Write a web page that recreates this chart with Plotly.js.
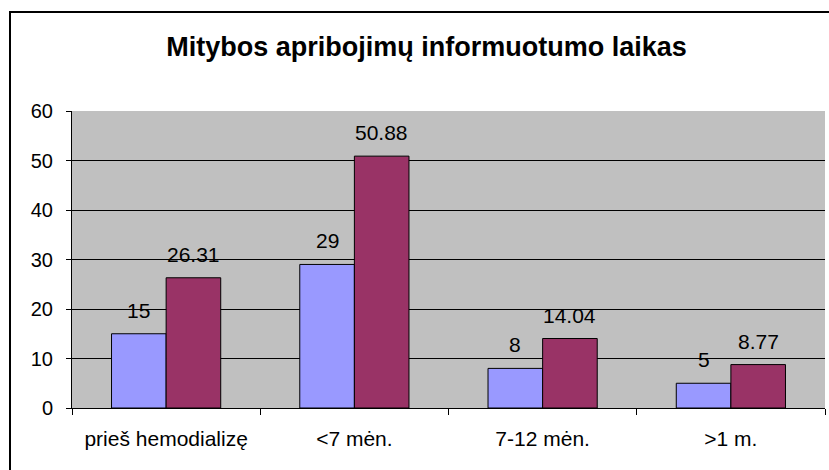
<!DOCTYPE html>
<html>
<head>
<meta charset="utf-8">
<script src="https://cdn.plot.ly/plotly-3.0.1.min.js"></script>
<style>
  html, body { margin: 0; padding: 0; background: #ffffff; }
  #chart { width: 829px; height: 470px; }
</style>
</head>
<body>
<div id="chart"></div>
<script>
const categories = ['prieš hemodializę', '&lt;7 mėn.', '7-12 mėn.', '&gt;1 m.'];
const seriesA = [15, 29, 8, 5];
const seriesB = [26.31, 50.88, 14.04, 8.77];
const yTicks = [0, 10, 20, 30, 40, 50, 60];

const FONT = '"Liberation Sans", Arial, sans-serif';
const W = 829, H = 470;
const M = { l: 72, r: 4, t: 111, b: 62 };
const bargap = 0.42;
const plotW = W - M.l - M.r;
const plotH = H - M.t - M.b;
const barPx = plotW / categories.length * (1 - bargap) / 2;

const traces = [
  { type: 'bar', x: categories, y: seriesA, name: 'A',
    marker: { color: '#9999FF', line: { color: '#000000', width: 1 } }, hoverinfo: 'none' },
  { type: 'bar', x: categories, y: seriesB, name: 'B',
    marker: { color: '#993366', line: { color: '#000000', width: 1 } }, hoverinfo: 'none' }
];

const annotations = [];
[seriesA, seriesB].forEach((s, k) => {
  s.forEach((v, i) => {
    annotations.push({
      x: categories[i], y: v, xref: 'x', yref: 'y',
      text: String(v), showarrow: false,
      xanchor: 'center', yanchor: 'bottom',
      xshift: (k === 0 ? -1 : 1) * barPx / 2, yshift: 10,
      font: { family: FONT, size: 21, color: '#000000' }
    });
  });
});

// outer chart-area border (left and top edges visible)
const px2x = p => (p - M.l) / plotW;
const py2y = p => (H - M.b - p) / plotH;
const shapes = [
  { type: 'rect', xref: 'paper', yref: 'paper',
    x0: px2x(10), x1: px2x(W + 20), y0: py2y(H + 20), y1: py2y(12),
    line: { color: '#000000', width: 2 }, fillcolor: 'rgba(0,0,0,0)', layer: 'below' }
];

const layout = {
  width: W, height: H,
  margin: M,
  paper_bgcolor: '#ffffff',
  plot_bgcolor: '#C0C0C0',
  showlegend: false,
  barmode: 'group',
  bargap: bargap,
  bargroupgap: 0,
  font: { family: FONT, color: '#000000' },
  title: {
    text: '<b>Mitybos apribojimų informuotumo laikas</b>',
    font: { family: FONT, size: 27, color: '#000000' },
    xref: 'container', yref: 'container',
    x: 426.5 / W, xanchor: 'center',
    y: 1 - 47 / H, yanchor: 'middle'
  },
  xaxis: {
    type: 'category',
    tickson: 'boundaries',
    ticks: 'outside', ticklen: 6, tickcolor: '#000000', tickwidth: 1,
    showline: true, linecolor: '#000000', linewidth: 1,
    showgrid: false, zeroline: false,
    ticklabelstandoff: 12,
    tickfont: { family: FONT, size: 21, color: '#000000' },
    fixedrange: true
  },
  yaxis: {
    range: [0, 60],
    tickvals: yTicks,
    ticks: 'outside', ticklen: 5, tickcolor: '#000000', tickwidth: 1,
    showline: true, linecolor: '#000000', linewidth: 1,
    showgrid: true, gridcolor: '#000000', gridwidth: 1,
    zeroline: false,
    ticklabelstandoff: 9,
    tickfont: { family: FONT, size: 20, color: '#000000' },
    fixedrange: true
  },
  annotations: annotations,
  shapes: shapes
};

Plotly.newPlot('chart', traces, layout, { staticPlot: true, displayModeBar: false });
</script>
</body>
</html>
